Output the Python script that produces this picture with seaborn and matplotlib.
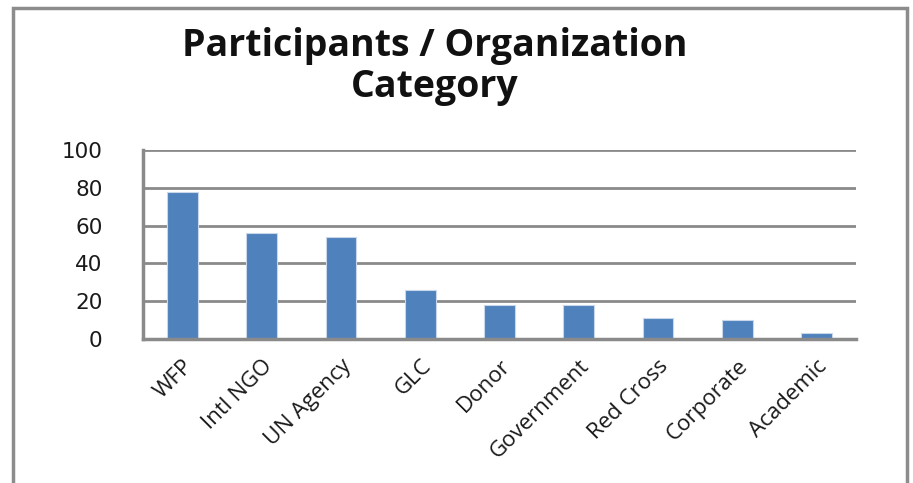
import matplotlib
matplotlib.use("Agg")
import matplotlib.pyplot as plt
import seaborn as sns
import pandas as pd
from matplotlib.patches import Rectangle

# data
categories = ['WFP', 'Intl NGO', 'UN Agency', 'GLC', 'Donor',
              'Government', 'Red Cross', 'Corporate', 'Academic']
participants = [78, 56, 54, 26, 18, 18, 11, 10, 3]
yticks = [0, 20, 40, 60, 80, 100]

df = pd.DataFrame({'category': categories, 'participants': participants})

sns.set_style("white")
plt.rcParams['font.family'] = ['Lato', 'DejaVu Sans']

fig = plt.figure(figsize=(9.13, 4.83), dpi=100)
ax = fig.add_axes([0.1566, 0.2981, 0.7810, 0.3913])

sns.barplot(data=df, x='category', y='participants', color='#4F81BD',
            saturation=1, width=0.39, edgecolor='#c9d7ea', linewidth=0.8, ax=ax)

grid_c = '#8a8a8a'
ax.set_ylim(0, 100)
ax.set_xlim(-0.5, len(categories) - 0.5)
ax.set_yticks(yticks)
ax.set_yticklabels([str(v) for v in yticks], family='DejaVu Sans', fontsize=15.5, color='#1a1a1a')
ax.yaxis.grid(True, color=grid_c, linewidth=2)
ax.set_axisbelow(True)
ax.tick_params(axis='y', length=9, width=2, color=grid_c, direction='out', pad=20)

# category separators as minor ticks below the axis
ax.set_xticks([i - 0.5 for i in range(len(categories) + 1)], minor=True)
ax.tick_params(axis='x', which='minor', length=7, width=2, color=grid_c, direction='out')
ax.tick_params(axis='x', which='major', length=0, pad=12)
ax.set_xticks(range(len(categories)))
ax.set_xticklabels(categories, rotation=45, ha='right', rotation_mode='anchor',
                   fontsize=16, family=['Open Sans', 'DejaVu Sans'], color='#1a1a1a')

for s in ['top', 'right']:
    ax.spines[s].set_visible(False)
for s in ['left', 'bottom']:
    ax.spines[s].set_color(grid_c)
    ax.spines[s].set_linewidth(2.5)
ax.set_xlabel('')
ax.set_ylabel('')

title_font = dict(ha='center', va='center', fontsize=27, fontweight='bold',
                  family=['Open Sans', 'DejaVu Sans'], color='#111111')
fig.text(0.476, 0.905, 'Participants / Organization', **title_font)
fig.text(0.476, 0.820, 'Category', **title_font)

# chart frame
fig.patches.append(Rectangle((13 / 913, -0.05), (907 - 13) / 913, 1.05 - 8 / 483,
                             transform=fig.transFigure, fill=False,
                             edgecolor='#8c8c8c', linewidth=2.5))

fig.savefig('out.png', dpi=100, facecolor='white')
